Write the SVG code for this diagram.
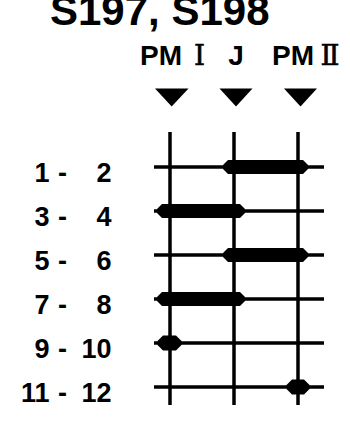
<svg xmlns="http://www.w3.org/2000/svg" width="350" height="427" viewBox="0 0 350 427">
<style>
text{font-family:"Liberation Sans","Noto Sans CJK JP",Arial,sans-serif;fill:#000;font-weight:bold}
.title{font-size:42px}
.hdr{font-size:28px}
.rn{font-family:"DejaVu Serif","Noto Sans CJK JP",serif;font-weight:normal;font-size:28px;stroke:#000;stroke-width:0.6}
.lbl{font-size:27px}
.grid line{stroke:#000;stroke-width:3.5}
.mark{fill:#000}
</style>
<rect width="350" height="427" fill="#fff"/>
<text class="title" x="50" y="25">S197, S198</text>
<g id="col-pm1">
<text class="hdr" x="140" y="65">PM</text>
<text class="hdr rn" x="199.5" y="65" text-anchor="middle">Ⅰ</text>
<polygon class="mark" points="155,88.5 188.5,88.5 171.7,106.5"/>
</g>
<g id="col-j">
<text class="hdr" x="236" y="65" text-anchor="middle">J</text>
<polygon class="mark" points="219.5,88.5 252.5,88.5 236,106.5"/>
</g>
<g id="col-pm2">
<text class="hdr" x="272" y="65">PM</text>
<text class="hdr rn" x="330" y="65" text-anchor="middle">Ⅱ</text>
<polygon class="mark" points="284,88.5 317,88.5 300.5,106.5"/>
</g>
<g id="connectors" class="grid">
<line x1="170" y1="132" x2="170" y2="405"/>
<line x1="234" y1="132" x2="234" y2="405"/>
<line x1="298" y1="132" x2="298" y2="405"/>
<line x1="154" y1="167" x2="324" y2="167"/>
<line x1="154" y1="211" x2="324" y2="211"/>
<line x1="154" y1="255" x2="324" y2="255"/>
<line x1="154" y1="299" x2="324" y2="299"/>
<line x1="154" y1="343" x2="324" y2="343"/>
<line x1="154" y1="387" x2="324" y2="387"/>
</g>
<g id="row1">
<text class="lbl" x="49.5" y="181.5" text-anchor="end">1</text>
<text class="lbl" x="62.5" y="181.5" text-anchor="middle">-</text>
<text class="lbl" x="111.5" y="181.5" text-anchor="end">2</text>
<path class="mark" d="M223,165 L228,160 H303 L308,165 V169 L303,174 H228 L223,169 Z"/>
</g>
<g id="row2">
<text class="lbl" x="49.5" y="225.5" text-anchor="end">3</text>
<text class="lbl" x="62.5" y="225.5" text-anchor="middle">-</text>
<text class="lbl" x="111.5" y="225.5" text-anchor="end">4</text>
<path class="mark" d="M157,209 L162,204 H240 L245,209 V213 L240,218 H162 L157,213 Z"/>
</g>
<g id="row3">
<text class="lbl" x="49.5" y="269.5" text-anchor="end">5</text>
<text class="lbl" x="62.5" y="269.5" text-anchor="middle">-</text>
<text class="lbl" x="111.5" y="269.5" text-anchor="end">6</text>
<path class="mark" d="M223,253 L228,248 H303 L308,253 V257 L303,262 H228 L223,257 Z"/>
</g>
<g id="row4">
<text class="lbl" x="49.5" y="313.5" text-anchor="end">7</text>
<text class="lbl" x="62.5" y="313.5" text-anchor="middle">-</text>
<text class="lbl" x="111.5" y="313.5" text-anchor="end">8</text>
<path class="mark" d="M157,297 L162,292 H240 L245,297 V301 L240,306 H162 L157,301 Z"/>
</g>
<g id="row5">
<text class="lbl" x="49.5" y="357.5" text-anchor="end">9</text>
<text class="lbl" x="62.5" y="357.5" text-anchor="middle">-</text>
<text class="lbl" x="111.5" y="357.5" text-anchor="end">10</text>
<path class="mark" d="M157.5,341 L163,335.5 H176 L181.5,341 V345 L176,350.5 H163 L157.5,345 Z"/>
</g>
<g id="row6">
<text class="lbl" x="49.5" y="401.5" text-anchor="end">11</text>
<text class="lbl" x="62.5" y="401.5" text-anchor="middle">-</text>
<text class="lbl" x="111.5" y="401.5" text-anchor="end">12</text>
<path class="mark" d="M286.5,385 L292,379.5 H304 L309.5,385 V389 L304,394.5 H292 L286.5,389 Z"/>
</g>
</svg>
